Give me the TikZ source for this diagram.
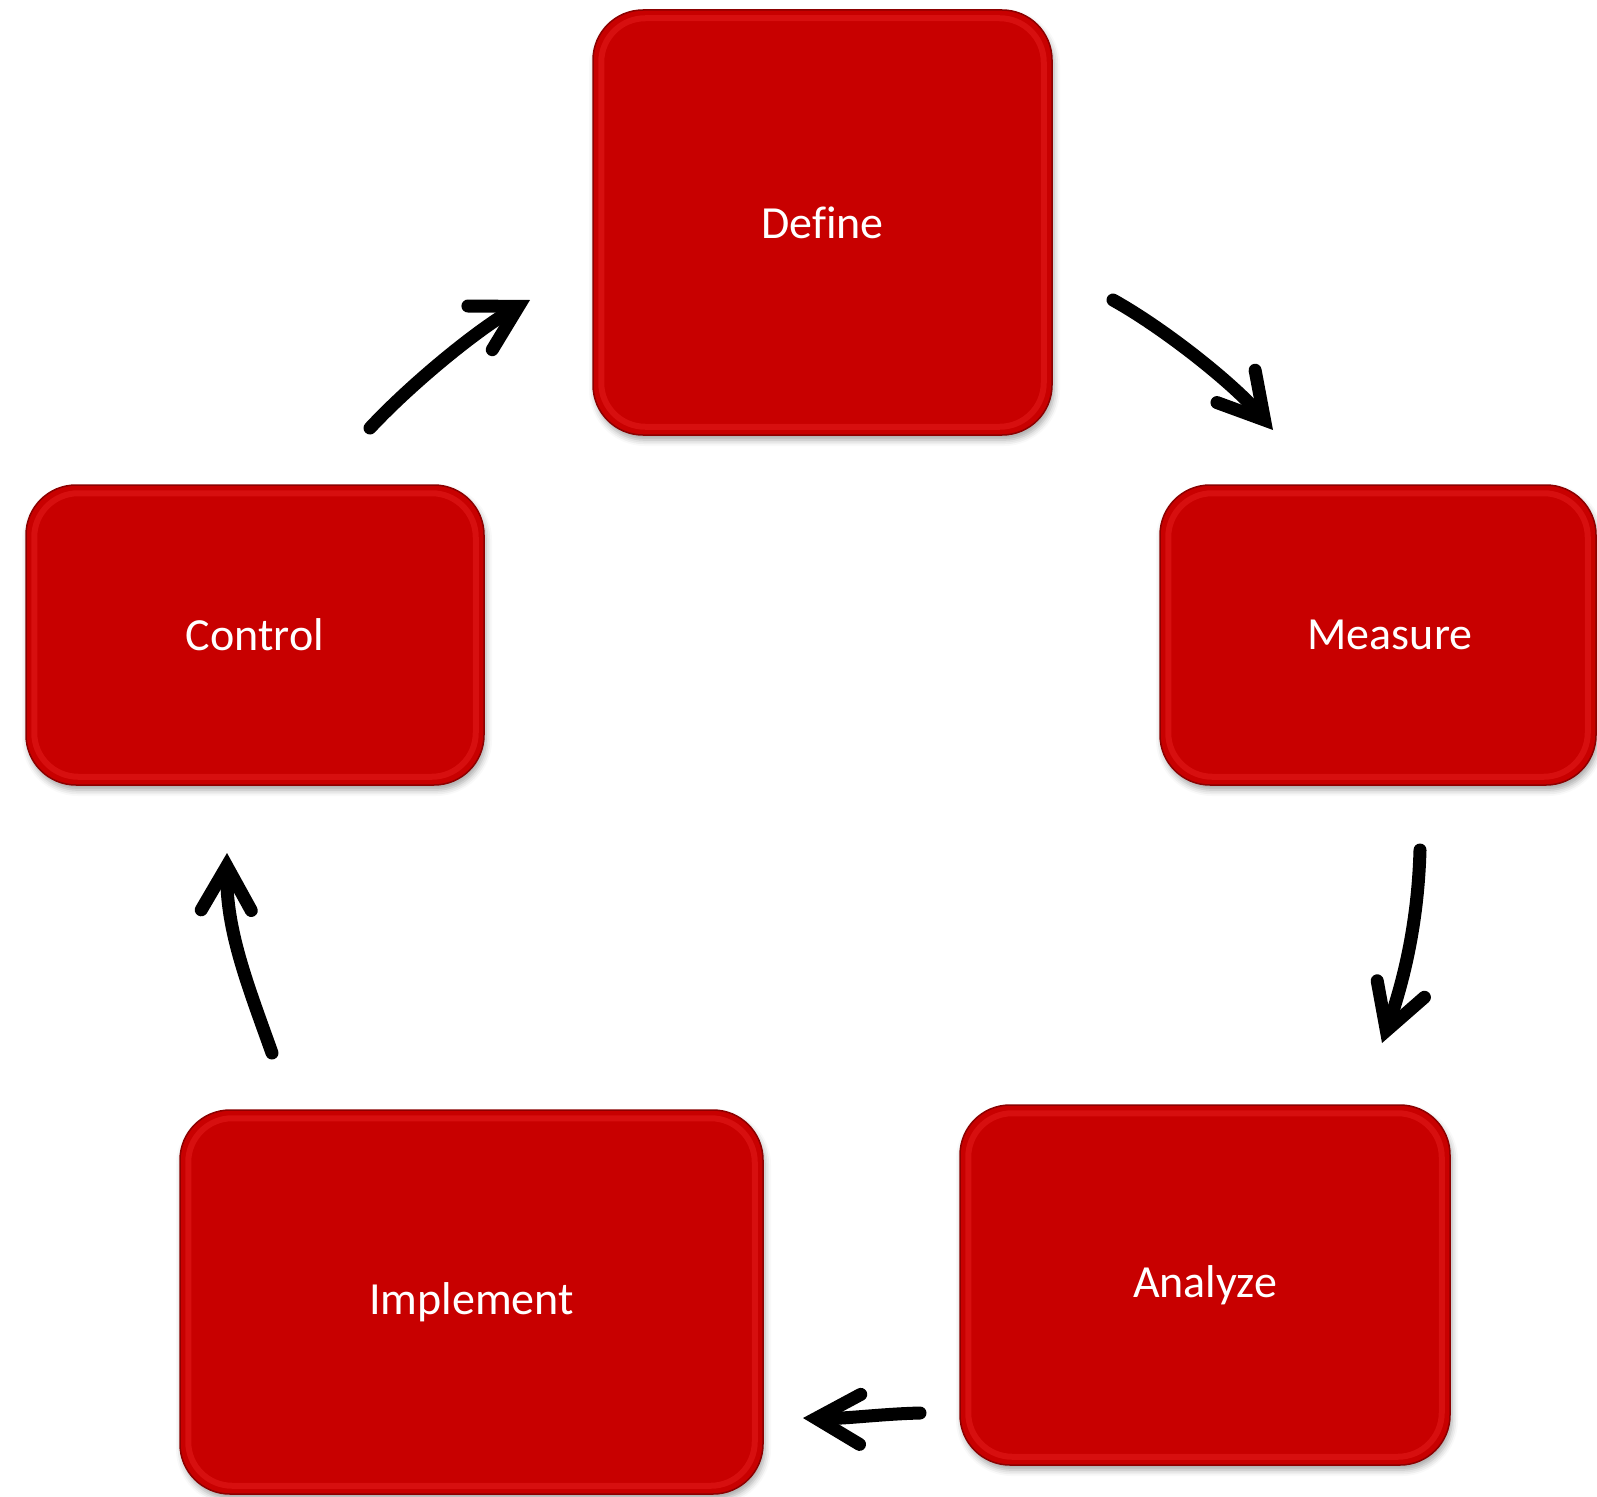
\documentclass[tikz,border=0pt]{standalone}
\usepackage{fontspec}
\setmainfont{Carlito}[Ligatures=NoCommon]
\usetikzlibrary{arrows.meta,shadows.blur}
\definecolor{boxred}{RGB}{200,0,0}
\definecolor{rimred}{RGB}{140,0,0}
\definecolor{hired}{RGB}{228,28,28}
\tikzset{
  stage/.style={draw=rimred, line width=1.5pt, fill=boxred, rounded corners=50pt,
    text=white, font=\fontsize{46}{55}\selectfont,
    blur shadow={shadow xshift=2pt, shadow yshift=-5pt, shadow blur radius=6pt, shadow opacity=35}},
  bevel/.style={draw=hired, line width=6pt, rounded corners=44pt, opacity=0.55},
  flow/.style={line width=13pt, line cap=round,
    -{Straight Barb[length=44pt, width=50pt, line cap=round, line join=miter]}}
}
\begin{document}
\begin{tikzpicture}[x=1pt, y=-1pt]
\useasboundingbox (0,0) rectangle (1597,1496);
\node[stage, minimum width=459pt, minimum height=425pt] (D) at (822.5,222.5) {Define};
\node[stage, minimum width=436pt, minimum height=300pt] (M) at (1378,635) {\hspace*{24pt}Measure};
\node[stage, minimum width=458pt, minimum height=300pt] (C) at (255,635) {Control};
\node[stage, minimum width=490pt, minimum height=360pt] (A) at (1205,1285) {Analyze};
\node[stage, minimum width=583pt, minimum height=384pt] (I) at (471.5,1302) {Implement};
\foreach \n in {D,M,C,A,I}{
  \draw[bevel] ([shift={(9,9)}]\n.north west) rectangle ([shift={(-9,-9)}]\n.south east);
}
% arrow end points
\coordinate (dm1) at (1113,300);  \coordinate (dm2) at (1273,430);
\coordinate (ma1) at (1420,850);  \coordinate (ma2) at (1382,1043);
\coordinate (ai1) at (920,1413);  \coordinate (ai2) at (803,1418);
\coordinate (ic1) at (272,1053);  \coordinate (ic2) at (227,853);
\coordinate (cd1) at (370,428);   \coordinate (cd2) at (530,300);
\draw[flow] (dm1) .. controls (1165,329) and (1234,384) .. (dm2);
\draw[flow] (ma1) .. controls (1418,920) and (1405,977) .. (ma2);
\draw[flow] (ai1) .. controls (880,1414) and (845,1419) .. (ai2);
\draw[flow] (ic1) .. controls (247,983) and (226,930) .. (ic2);
\draw[flow] (cd1) .. controls (411,384) and (478,329) .. (cd2);
\end{tikzpicture}
\end{document}
